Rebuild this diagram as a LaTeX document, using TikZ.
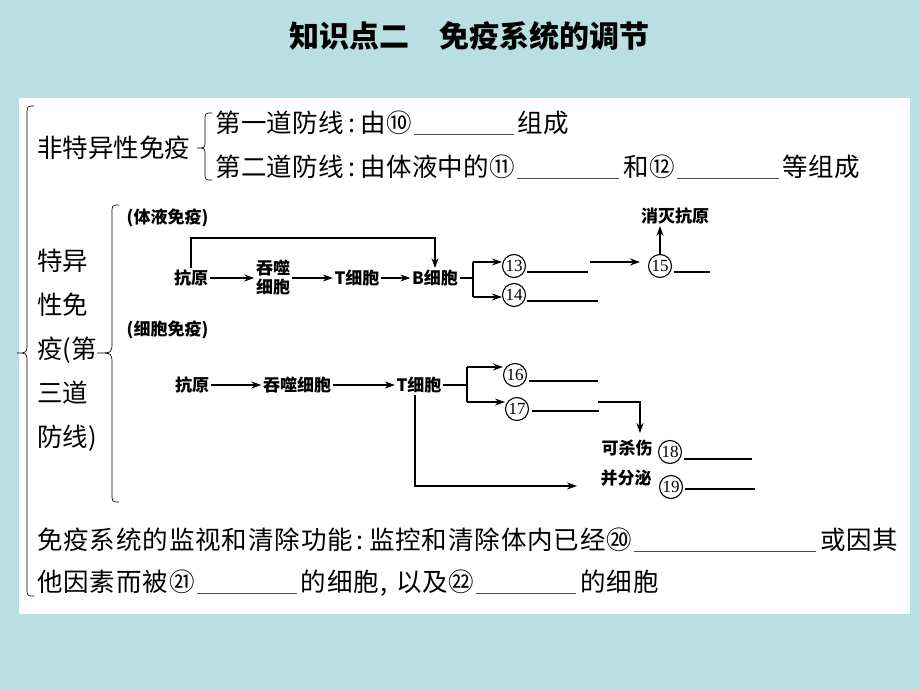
\documentclass[tikz,border=0pt]{standalone}
\usepackage{fontspec}
\setmainfont{Noto Sans CJK SC}
\newfontfamily\numfam{Liberation Serif}
\usetikzlibrary{arrows.meta}
\definecolor{bgcyan}{RGB}{186,223,226}
\newcommand\blank[1]{\hspace{2pt}{\color{black!70}\rule[-3pt]{#1pt}{0.9pt}}\hspace{4pt}}
\newcommand\cln{\hspace{4pt}:\hspace{5pt}}
\newcommand\cma{\hspace{2pt},\hspace{8pt}}
\newcommand\bigtext{\fontsize{25.5}{44}\selectfont}
\newcommand\diagtext{\fontsize{17}{19}\selectfont\bfseries}
\tikzset{
  row/.style={anchor=west,inner sep=0pt,font=\bigtext},
  wide/.style={font=\bigtext\addfontfeature{LetterSpace=3.5}},
  lbl/.style={inner sep=1.5pt,font=\diagtext},
  num/.style={circle,draw,line width=1.1pt,inner sep=0pt,minimum size=23pt,font=\numfam\fontsize{17}{17}\selectfont},
  arr/.style={-{Stealth[length=10pt,width=7pt]},line width=1.2pt},
  brk/.style={line width=1.8pt},
  ans/.style={line width=1.4pt},
  curly/.style={line width=0.7pt}
}
\begin{document}
\begin{tikzpicture}[x=1pt,y=-1pt]
\fill[bgcyan] (0,0) rectangle (920,690);
\useasboundingbox (0,0) rectangle (920,690);
\fill[white] (19,98) rectangle (910,614);
\node[font=\fontsize{30}{30}\selectfont\bfseries] (title) at (469,36) {知识点二　免疫系统的调节};

\node[row] (nonspec) at (37,148) {非特异性免疫};
\node[row,font=\bigtext\addfontfeature{LetterSpace=1.5}] (line1) at (215,123) {第一道防线\cln 由⑩\blank{100}组成};
\node[row,font=\bigtext\addfontfeature{LetterSpace=1.5}] (line2) at (215,167) {第二道防线\cln 由体液中的⑪\blank{102}和⑫\blank{102}等组成};
\node[row,align=left] (spec) at (37,350) {特异\\性免\\疫(第\\三道\\防线)};
\node[row,wide] (line3) at (37,540) {免疫系统的监视和清除功能\cln 监控和清除体内已经⑳\blank{182}或因其};
\node[row,wide] (line4) at (37,583) {他因素而被㉑\blank{100}的细胞\cma 以及㉒\blank{100}的细胞};

\draw[curly] (34,106) .. controls (27,106) .. (27,116) -- (27,343) .. controls (27,353) .. (17,353)
  .. controls (27,353) .. (27,363) -- (27,587) .. controls (27,596) .. (34,596);
\draw[curly] (212,113) .. controls (205,113) .. (205,121) -- (205,141) .. controls (205,148) .. (197,148)
  .. controls (205,148) .. (205,155) -- (205,172) .. controls (205,180) .. (212,180);
\draw[curly] (119,205) .. controls (112,205) .. (112,214) -- (112,342) .. controls (112,353) .. (97,353)
  .. controls (112,353) .. (112,364) -- (112,493) .. controls (112,502) .. (119,502);

\node[lbl,anchor=west] (humoral) at (125,218) {(体液免疫)};
\node[lbl] (ag1) at (191,278) {抗原};
\node[lbl,align=center] (mac1) at (273,278) {吞噬\\细胞};
\node[lbl] (t1) at (357,278) {T细胞};
\node[lbl] (b1) at (435,278) {B细胞};
\node[num] (n13) at (514,266) {13};
\node[num] (n14) at (514,295) {14};
\node[num] (n15) at (660,266) {15};
\node[lbl] (kill) at (675,216) {消灭抗原};
\coordinate (loop) at (190,238);
\coordinate (jb) at (473,278);
\coordinate (jb1) at (473,262);
\coordinate (jb2) at (473,297);
\coordinate (s15) at (590,262);
\coordinate (e15) at (640,262);
\draw[arr] (ag1) -- (mac1);
\draw[arr] (mac1) -- (t1);
\draw[arr] (t1) -- (b1);
\draw[arr] (ag1.north) -- (ag1.north |- loop) -| (b1.north);
\draw[line width=1.2pt] (b1) -- (jb);
\draw[brk] (jb1) -- (jb2);
\draw[arr] (jb1) -- (jb1 -| n13.west);
\draw[arr] (jb2) -- (jb2 -| n14.west);
\draw[ans] (n13.east) ++(1,6) -- ++(61,0);
\draw[ans] (n14.east) ++(1,6) -- ++(71,0);
\draw[arr] (s15) -- (e15);
\draw[ans] (n15.east) ++(2,6) -- ++(36,0);
\draw[arr] (n15.north) -- (n15.north |- kill.south);

\node[lbl,anchor=west] (cellular) at (125,330) {(细胞免疫)};
\node[lbl] (ag2) at (192,385) {抗原};
\node[lbl] (mac2) at (297,385) {吞噬细胞};
\node[lbl] (t2) at (419,385) {T细胞};
\node[num] (n16) at (515,375) {16};
\node[num] (n17) at (517,409) {17};
\node[lbl] (kill2) at (627,448) {可杀伤};
\node[num] (n18) at (670,452) {18};
\node[lbl] (secrete) at (626,478) {并分泌};
\node[num] (n19) at (671,487) {19};
\coordinate (jc) at (467,385);
\coordinate (jc1) at (467,367);
\coordinate (jc2) at (467,402);
\coordinate (k17) at (598,402);
\coordinate (k18) at (640,433);
\coordinate (s19) at (577,486);
\draw[arr] (ag2) -- (mac2);
\draw[arr] (mac2) -- (t2);
\draw[line width=1.2pt] (t2) -- (jc);
\draw[brk] (jc1) -- (jc2);
\draw[arr] (jc1) -- (jc1 -| n16.west);
\draw[arr] (jc2) -- (jc2 -| n17.west);
\draw[ans] (n16.east) ++(2,6) -- ++(69,0);
\draw[ans] (n17.east) ++(3,2) -- ++(67,0);
\draw[arr] (k17) -| (k18);
\draw[ans] (n18.east) ++(2,7) -- ++(68,0);
\draw[ans] (n19.east) ++(2,2) -- ++(70,0);
\draw[arr] (t2.south) ++(-4,0) |- (s19);
\end{tikzpicture}
\end{document}
